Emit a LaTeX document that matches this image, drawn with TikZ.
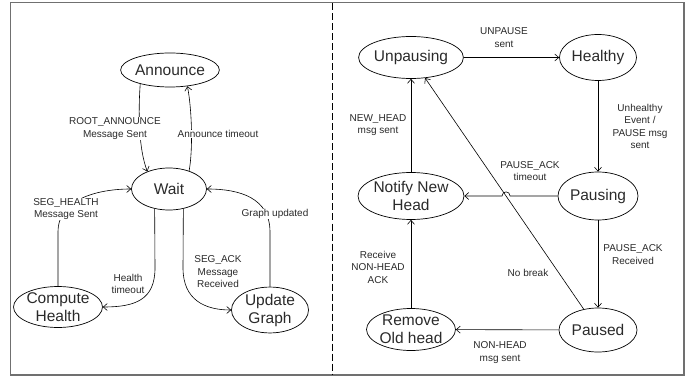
\documentclass[tikz,border=0pt]{standalone}
\usepackage{fontspec}
\setmainfont{Liberation Sans}
\usetikzlibrary{shapes.geometric,arrows.meta,intersections}
\definecolor{txt}{HTML}{2A2A2A}
\definecolor{frm}{HTML}{707070}
\begin{document}
\begin{tikzpicture}[x=1pt,y=-1pt,
  st/.style={ellipse, draw=black, line width=0.7pt, inner sep=0pt, align=center,
    text=txt, font=\fontsize{15.5}{18}\selectfont},
  lbl/.style={align=center, inner sep=0.5pt, fill=white, text=txt, font=\fontsize{10}{12.5}\selectfont},
  arr/.style={draw=black, line width=0.6pt, -{Straight Barb[length=4pt,width=7pt]}}]
\useasboundingbox (0,0) rectangle (687,379);
% frame and divider
\draw[frm, line width=1.2pt] (10.5,2.5) rectangle (684,375);
\draw[black, line width=1.5pt, dash pattern=on 7pt off 3pt] (332.5,3.5) -- (332.5,374);

% left states
\node[st, minimum width=86pt, minimum height=34pt] (announce) at (170,70) {Announce};
\node[st, minimum width=75pt, minimum height=42pt] (wait) at (169,189) {Wait};
\node[st, minimum width=84pt, minimum height=40pt] (ch) at (58,307) {Compute\\Health};
\node[st, minimum width=77pt, minimum height=40pt] (ug) at (270,310) {Update\\Graph};

% left transitions
\draw[arr] (announce.205) .. controls (138,115) and (139,150) .. (wait.141);
\draw[arr] (wait.42) .. controls (193,150) and (192,110) .. (announce.317);
\draw[arr] (ch.north) -- (58,232) .. controls (58,198) and (100,189) .. (wait.west);
\draw[arr] (wait.234) -- (155,268) .. controls (155,300) and (135,307) .. (ch.east);
\draw[arr] (wait.306) -- (183,268) .. controls (183,300) and (205,310) .. (ug.west);
\draw[arr] (ug.north) -- (270,232) .. controls (270,198) and (240,189) .. (wait.east);

% left labels
\node[lbl] (l1) at (115,128.5) {ROOT\_ANNOUNCE\\Message Sent};
\node[lbl] (l2) at (218,134) {Announce timeout};
\node[lbl] (l3) at (66,209) {SEG\_HEALTH\\Message Sent};
\node[lbl] (l4) at (128,284) {Health\\timeout};
\node[lbl] (l5) at (218,272) {SEG\_ACK\\Message\\Received};
\node[lbl] (l6) at (275,214) {Graph updated};

% right states
\node[st, minimum width=70pt, minimum height=42pt] (unp) at (411,57.5) {Unpausing};
\node[st, minimum width=77pt, minimum height=46pt] (healthy) at (598,57.5) {Healthy};
\node[st, minimum width=86pt, minimum height=47pt] (notify) at (411,196) {Notify New\\Head};
\node[st, minimum width=80pt, minimum height=48pt] (pausing) at (598,196) {Pausing};
\node[st, minimum width=81pt, minimum height=42pt] (remove) at (411,329.5) {Remove\\Old head};
\node[st, minimum width=78pt, minimum height=44pt] (paused) at (598,330) {Paused};

% right transitions
\draw[arr] (unp) -- (healthy);
\draw[arr] (healthy) -- (pausing);
\draw[arr] (pausing) -- (paused);
\draw[arr] (paused) -- (remove);
\draw[arr] (remove) -- (notify);
\draw[arr] (notify) -- (unp);
\draw[arr, name path=diag] (paused) -- (unp);
\path[name path=hz] (pausing.west) -- (notify.east);
\path[name intersections={of=diag and hz, by=hop}];
\draw[arr] (pausing.west) -- ([xshift=4pt]hop) .. controls +(0,5.5pt) and +(0,5.5pt) .. ([xshift=-4pt]hop) -- (notify.east);

% right labels
\node[lbl] (r1) at (504,37.5) {UNPAUSE\\sent};
\node[lbl] (r2) at (640,126.5) {Unhealthy\\Event /\\PAUSE msg\\sent};
\node[lbl] (r3) at (378,125) {NEW\_HEAD\\msg sent};
\node[lbl] (r4) at (530,171) {PAUSE\_ACK\\timeout};
\node[lbl] (r5) at (633,254.5) {PAUSE\_ACK\\Received};
\node[lbl] (r6) at (378,267) {Receive\\NON-HEAD\\ACK};
\node[lbl] (r7) at (528,273) {No break};
\node[lbl] (r8) at (500,352.5) {NON-HEAD\\msg sent};
\end{tikzpicture}
\end{document}
